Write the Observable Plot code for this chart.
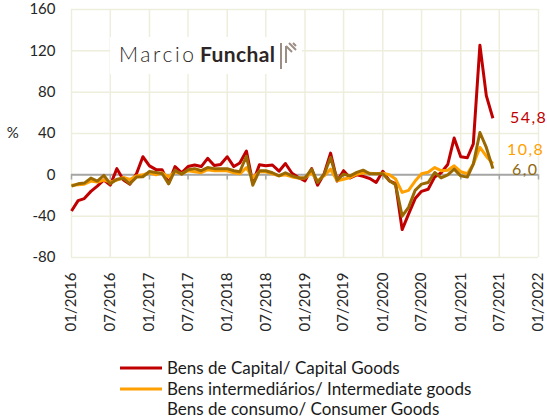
<!DOCTYPE html>
<html>
<head>
<meta charset="utf-8">
<script src="https://cdn.jsdelivr.net/npm/d3@7"></script>
<script src="https://cdn.jsdelivr.net/npm/@observablehq/plot@0.6"></script>
<style>
  body { margin: 0; background: #fff; }
  #wrap { position: relative; width: 547px; height: 420px; overflow: hidden; font-family: Lato, "Open Sans", sans-serif; }
  #chart { position: absolute; left: 0; top: 0; }
  #logo { position: absolute; left: 0; top: 0; pointer-events: none; }
  #legend { position: absolute; left: 0; top: 345px; }
</style>
</head>
<body>
<div id="wrap">
  <div id="chart"></div>
  <svg id="logo" width="547" height="100"></svg>
  <svg id="legend" width="547" height="75"></svg>
</div>
<script>
// ---- data (monthly, starting 01/2016) ----
const firstMonth = "2016-01-01";
const capital = [-35, -25, -23, -16, -11, -5, -10, 6, -5, -9, 1, 17.5,
  8.7, 5, 5, -8, 8, 2, 8, 9.5, 8, 16, 9, 10,
  17.5, 8, 11.5, 23, -8, 9.7, 8.7, 9.5, 3.5, 11, 1.5, -2.6,
  -5.8, 6, -10, 1, 21, -6, 4, -3, 0, -1.5, -3.5, -7.4,
  3.5, -5.8, -8.4, -53, -38, -23, -16, -14, -2, 2, 10, 35.6,
  17.5, 16.5, 30, 125.5, 76.7, 54.8];
const intermediate = [-10, -9.5, -9, -6, -7, -5, -7, -5, -2.5, -4.5, -1, 0,
  2, 0, 2, -2, 3, 1, 4, 3, 2, 5, 4, 4,
  4, 2, 1, 7, -3, 3, 3, 1, -1, 0, -2, -3,
  -3, 2, -5.8, -1, 5.5, -5.8, -4.2, -2.6, 0.6, 2, 1.5, 1,
  1.5, 0, -4, -17, -15, -6, 1, 2.5, 7, 4, 4.5, 8.7,
  3, 1, 10.4, 26.5, 18, 10.8];
const consumer = [-11, -8.7, -8, -3.2, -6, -0.5, -8.7, -4.2, -3.5, -8.7, -2.2, -1.9,
  3.2, 2.3, 1.3, -8.7, 4.5, 0.6, 5, 6, 4, 7, 6, 6,
  6, 4, 3, 18, -10, 4, 4, 2, -1, 2, -1, -3,
  -3, 5.5, -7.4, 0.6, 16.8, -5.2, 0.6, -1, 2.3, 4.5, 1, 1,
  1, -5.8, -9.5, -40, -31.5, -15, -9, -7.4, 2.3, -3, 0, 5.5,
  -1, -2.2, 10.4, 41, 26.5, 6];
const seriesNames = ["Bens de Capital/ Capital Goods", "Bens intermediários/ Intermediate goods", "Bens de consumo/ Consumer Goods"];
const yTicks = [-80, -40, 0, 40, 80, 120, 160];
const xTickLabels = ["01/2016", "07/2016", "01/2017", "07/2017", "01/2018", "07/2018", "01/2019",
  "07/2019", "01/2020", "07/2020", "01/2021", "07/2021", "01/2022"];

// ---- styles ----
const seriesColors = ["#c00000", "#ffa000", "#9a6800"];
const labelColors = ["#c00000", "#ffa000", "#8f6a10"];
const labelDx = [17, 14, 19];
const labelDy = [0, -14, 1];
const gridColor = "#eeeedd";
const axisGray = "#a6a6a6";
const textColor = "#262626";

// ---- build ----
const parseMY = d3.utcParse("%m/%Y");
const xTicks = xTickLabels.map(parseMY);
const start = new Date(firstMonth + "T00:00:00Z");
const series = [capital, intermediate, consumer];
const months = d3.utcMonth.range(start, d3.utcMonth.offset(start, capital.length));
const tables = series.map(arr => arr.map((v, i) => ({date: months[i], v})));

const marks = [
  Plot.ruleY(yTicks, {stroke: gridColor, strokeWidth: 1.5}),
  Plot.ruleX(xTicks, {stroke: gridColor, strokeWidth: 1.5}),
  Plot.ruleY([0], {stroke: axisGray, strokeWidth: 2}),
  Plot.ruleX(xTicks, {y1: 0, y2: -5, stroke: axisGray, strokeWidth: 1.5}),
  ...tables.map((t, k) => Plot.line(t, {x: "date", y: "v", stroke: seriesColors[k], strokeWidth: 3, strokeLinejoin: "round", strokeLinecap: "butt"})),
  ...tables.map((t, k) => Plot.text([t[t.length - 1]], {
    x: "date", y: "v", text: d => d.v.toFixed(1).replace(".", ","),
    fill: labelColors[k], fontSize: 16, textAnchor: "start", dx: labelDx[k], dy: labelDy[k]
  })),
  Plot.text(["%"], {frameAnchor: "left", dx: -58, text: d => d, fill: textColor, fontSize: 15, textAnchor: "middle"})
];

const chart = Plot.plot({
  width: 547,
  height: 345,
  marginLeft: 71,
  marginRight: 9,
  marginTop: 9,
  marginBottom: 88,
  style: {fontFamily: "Lato, 'Open Sans', sans-serif", fontSize: "15px", color: textColor, background: "transparent"},
  x: {type: "utc", domain: [xTicks[0], xTicks[xTicks.length - 1]], ticks: xTicks,
      tickFormat: d3.utcFormat("%m/%Y"), tickRotate: -90, tickSize: 0, tickPadding: 15, label: null},
  y: {domain: [yTicks[0], yTicks[yTicks.length - 1]], ticks: yTicks, tickFormat: d => String(d),
      tickSize: 0, tickPadding: 16, label: null},
  marks
});
document.getElementById("chart").appendChild(chart);
d3.select(chart).selectAll("g[aria-label='text'] text").style("letter-spacing", "1.5px");

// ---- logo overlay ----
const logo = d3.select("#logo");
logo.append("rect").attr("x", 110).attr("y", 37).attr("width", 192).attr("height", 37).attr("fill", "#fff");
logo.append("text").attr("x", 119).attr("y", 62).attr("font-family", "Lato, sans-serif").attr("font-size", 21)
  .attr("font-weight", 300).attr("letter-spacing", "2.6px").attr("fill", "#2e2626").text("Marcio");
logo.append("text").attr("x", 200).attr("y", 62).attr("font-family", "Lato, sans-serif").attr("font-size", 21)
  .attr("font-weight", 700).attr("letter-spacing", "0.4px").attr("fill", "#2e2626").text("Funchal");
const ic = logo.append("g").attr("stroke", "#9d8e85").attr("stroke-width", 2).attr("fill", "none");
ic.append("path").attr("d", "M281,43 L281,69");
ic.append("path").attr("d", "M286,46 L286,63");
ic.append("path").attr("d", "M286,46 L292,52 M289,43 L296,50 M293,43 L296,46");

// ---- legend ----
const lg = d3.select("#legend");
const rowsY = [23, 44, 64];
seriesNames.forEach((name, k) => {
  if (k < 2) {
    lg.append("line").attr("x1", 120).attr("x2", 162).attr("y1", rowsY[k]).attr("y2", rowsY[k])
      .attr("stroke", seriesColors[k]).attr("stroke-width", 3);
  }
  lg.append("text").attr("x", 167).attr("y", rowsY[k]).attr("dy", "0.35em")
    .attr("font-family", "Lato, sans-serif").attr("font-size", 17).attr("fill", "#1a1a1a").text(name);
});
</script>
</body>
</html>
